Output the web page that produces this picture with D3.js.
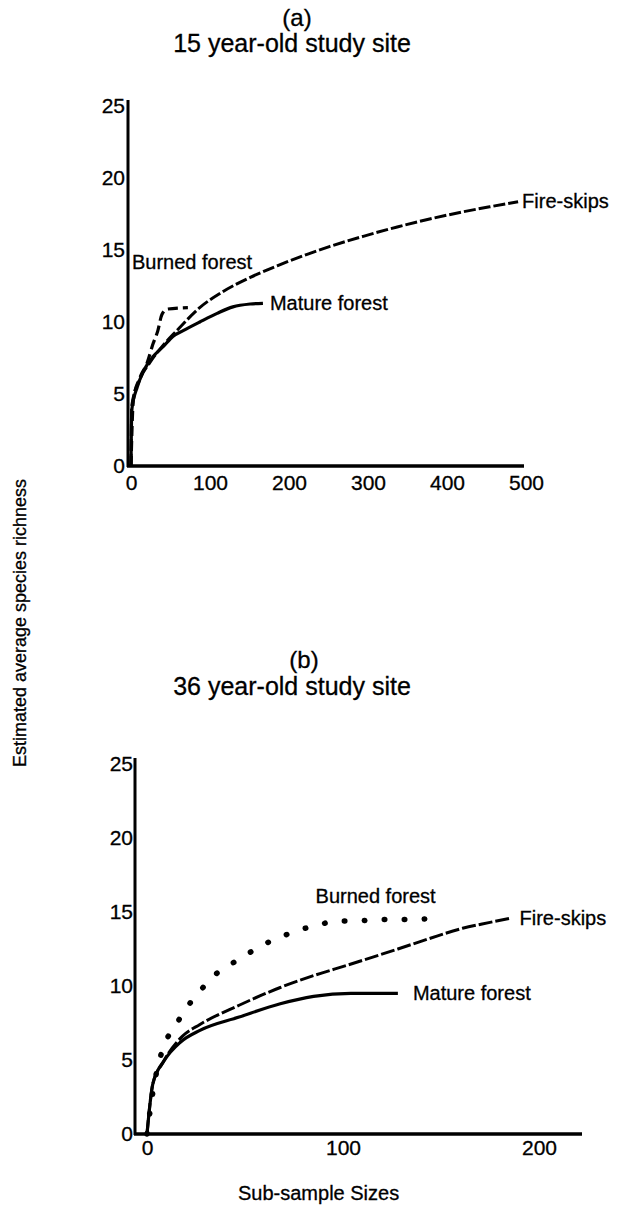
<!DOCTYPE html>
<html>
<head>
<meta charset="utf-8">
<script src="https://cdn.jsdelivr.net/npm/d3@7"></script>
<style>
  body { margin: 0; background: #fff; }
  svg text { font-family: "Liberation Sans", Arial, Helvetica, sans-serif; fill: #000; stroke: #000; stroke-width: 0.3px; }
</style>
</head>
<body>
<svg id="chart" width="623" height="1211"></svg>
<script>
// Rarefaction curves: estimated average species richness vs. sub-sample size
const richnessTicks = [0, 5, 10, 15, 20, 25];
const sizeTicksA = [0, 100, 200, 300, 400, 500];
const sizeTicksB = [0, 100, 200];

// (a) 15 year-old study site — [sub-sample size, richness]
const fireSkipsA = [[0,0],[1,4.2],[11,6.0],[24,7.2],[41,8.4],[58,9.4],[87,11.0],[116,12.1],[151,13.1],[185,13.9],[223,14.7],[252,15.25],[294,15.95],[337,16.6],[378,17.15],[420,17.65],[454,18.0],[490,18.35]];
const matureA = [[0,0],[1,3.9],[8,5.5],[15,6.5],[28,7.6],[41,8.3],[53,9.0],[66,9.4],[87,10.0],[109,10.6],[129,11.05],[151,11.25],[167,11.3]];
const burnedA = [[0,0],[3,4.6],[11,6.1],[20,7.1],[28,8.5],[34,9.4],[39,10.5],[46,10.9],[72,11.0]];

// (b) 36 year-old study site
const fireSkipsB = [[0,0],[3,3.4],[8,4.8],[18,6.6],[27,7.4],[47,8.7],[68,9.9],[85,10.7],[102,11.4],[128,12.5],[144,13.2],[161,13.9],[175,14.3],[186,14.6]];
const matureB = [[0,0],[3,3.4],[9,5.0],[17,6.2],[27,7.0],[47,7.9],[68,8.8],[85,9.3],[104,9.5],[128,9.5]];
const burnedB = [[0,0],[4,3.6],[6.6,5.1],[9,6.1],[14,7.2],[19,8.3],[26,9.5],[36,10.9],[47,11.8],[58,12.7],[68,13.3],[78,13.8],[87,14.1],[97,14.4],[108,14.4],[118,14.5],[128,14.5],[137,14.5],[146,14.6]];

const svg = d3.select("#chart");

function drawPanel(cfg) {
  const g = svg.append("g");
  const x = d3.scaleLinear().domain(cfg.xDomain).range(cfg.xRange);
  const y = d3.scaleLinear().domain([0, 25]).range(cfg.yRange);

  // panel letter and title
  g.append("text").attr("x", cfg.tagX).attr("y", cfg.tagY)
    .attr("text-anchor", "middle").style("font-size", "24px").text(cfg.tag);
  g.append("text").attr("x", cfg.titleX).attr("y", cfg.titleY)
    .attr("text-anchor", "middle").style("font-size", "25px").text(cfg.title);

  // y axis
  const yAxis = g.append("g").attr("transform", `translate(${cfg.axisX},0)`)
    .call(d3.axisLeft(y).tickValues(richnessTicks).tickSize(0).tickPadding(cfg.yPad));
  yAxis.select(".domain").remove();
  yAxis.selectAll("text").style("font-size", "21px").style("font-family", "Liberation Sans, Arial, sans-serif");
  g.append("line").attr("x1", cfg.axisX).attr("x2", cfg.axisX)
    .attr("y1", y(25) - 6).attr("y2", y(0) + 1)
    .attr("stroke", "#000").attr("stroke-width", 3);

  // x axis
  const xAxis = g.append("g").attr("transform", `translate(0,${y(0)})`)
    .call(d3.axisBottom(x).tickValues(cfg.xTicks).tickSize(0).tickPadding(cfg.xPad));
  xAxis.select(".domain").remove();
  xAxis.selectAll("text").style("font-size", "21px").style("font-family", "Liberation Sans, Arial, sans-serif");
  g.append("line").attr("x1", cfg.axisX - 1).attr("x2", cfg.axisEnd)
    .attr("y1", y(0)).attr("y2", y(0))
    .attr("stroke", "#000").attr("stroke-width", 3.5);

  const line = d3.line().x(d => x(d[0])).y(d => y(d[1])).curve(d3.curveMonotoneX);

  cfg.series.forEach(s => {
    g.append("path").datum(s.data).attr("d", line)
      .attr("fill", "none").attr("stroke", "#000")
      .attr("stroke-width", s.width)
      .attr("stroke-linecap", s.cap || "butt")
      .attr("stroke-dasharray", s.dash || null);
    g.append("text")
      .attr("x", x(s.label[0]) + (s.label[2] || 0))
      .attr("y", y(s.label[1]))
      .attr("dy", "0.35em")
      .style("font-size", "20px")
      .text(s.name);
  });
}

drawPanel({
  tag: "(a)", tagX: 297, tagY: 26,
  title: "15 year-old study site", titleX: 292, titleY: 52,
  xDomain: [0, 500], xRange: [131, 526], yRange: [466, 106],
  axisX: 128, axisEnd: 524, xTicks: sizeTicksA, yPad: 3, xPad: 9,
  series: [
    { name: "Fire-skips", data: fireSkipsA, width: 3, dash: "12,3", label: [490, 18.4, 4] },
    { name: "Mature forest", data: matureA, width: 3.2, label: [167, 11.3, 7] },
    { name: "Burned forest", data: burnedA, width: 3.2, dash: "10,5", label: [0, 14.2, 1] }
  ]
});

drawPanel({
  tag: "(b)", tagX: 304, tagY: 668,
  title: "36 year-old study site", titleX: 292, titleY: 695,
  xDomain: [0, 200], xRange: [147, 539], yRange: [1134, 764],
  axisX: 135, axisEnd: 582, xTicks: sizeTicksB, yPad: 2, xPad: 6,
  series: [
    { name: "Fire-skips", data: fireSkipsB, width: 3, dash: "14,3", label: [186, 14.6, 8] },
    { name: "Mature forest", data: matureB, width: 3.2, label: [128, 9.5, 15] },
    { name: "Burned forest", data: burnedB, width: 5.5, cap: "round", dash: "0.5,19.5", label: [86, 16.1, 0] }
  ]
});

// shared axis titles
svg.append("text")
  .attr("transform", "translate(20,623) rotate(-90)")
  .attr("text-anchor", "middle").attr("dy", "0.35em")
  .style("font-size", "18px")
  .text("Estimated average species richness");

svg.append("text")
  .attr("x", 238).attr("y", 1200)
  .style("font-size", "20px")
  .text("Sub-sample Sizes");
</script>
</body>
</html>
